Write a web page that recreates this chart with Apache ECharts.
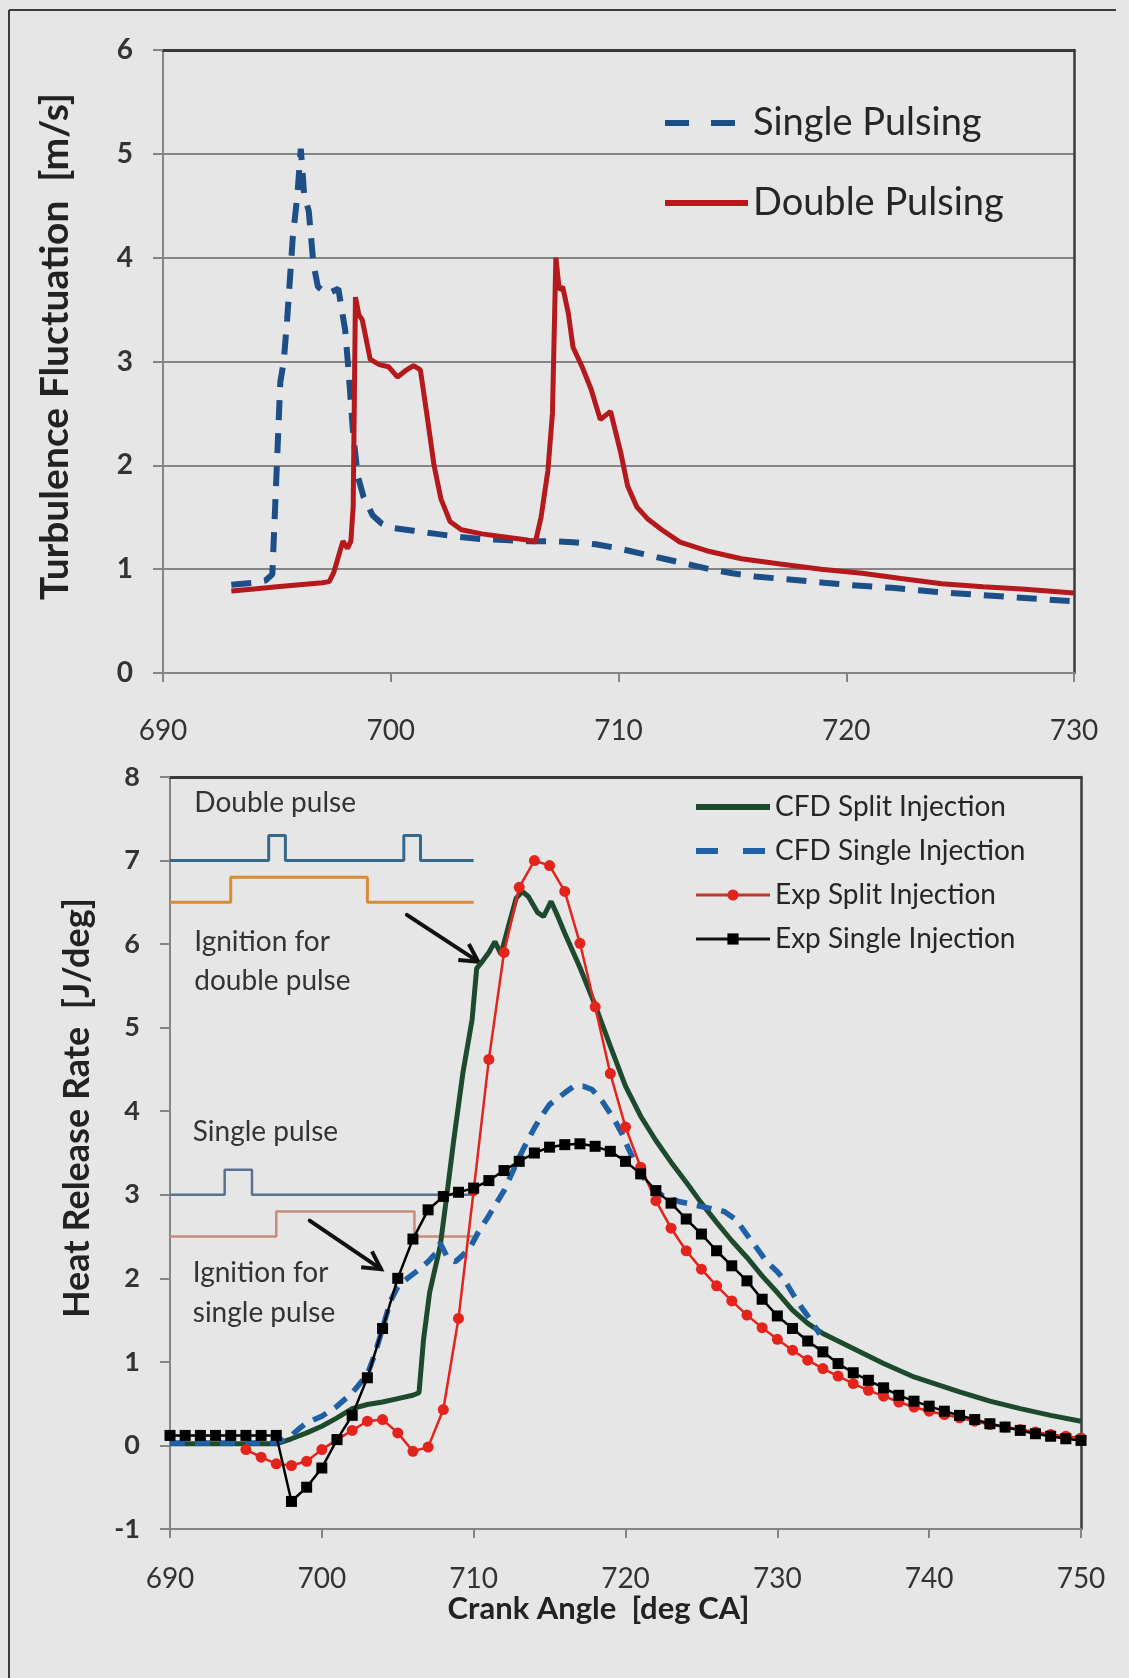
<!DOCTYPE html>
<html>
<head>
<meta charset="utf-8">
<script src="https://cdn.jsdelivr.net/npm/echarts@6/dist/echarts.min.js"></script>
<style>
  html, body { margin: 0; padding: 0; background: #e6e6e6; }
  #chart { width: 1129px; height: 1678px; }
</style>
</head>
<body>
<div id="chart"></div>
<script>
// ---------- Upper panel: turbulence fluctuation ----------
const singlePulsingAngle = [693.0, 693.5, 694.0, 694.5, 694.8, 695.0, 695.15, 695.3, 695.45, 695.7, 695.9, 696.05, 696.2, 696.4, 696.6, 696.8, 697.2, 697.7, 698.0, 698.15, 698.35, 698.55, 698.8, 699.2, 699.6, 700, 701, 702, 703, 704, 705, 706, 707, 708, 709, 710, 711, 712, 713, 714, 715, 716, 717, 718, 719, 720, 722, 724, 726, 728, 730];
const singlePulsingU = [0.85, 0.86, 0.87, 0.89, 0.95, 2.0, 2.8, 3.0, 3.4, 4.2, 4.6, 5.05, 4.6, 4.45, 3.95, 3.72, 3.65, 3.7, 3.3, 2.9, 2.3, 1.9, 1.7, 1.52, 1.44, 1.4, 1.37, 1.34, 1.31, 1.29, 1.28, 1.27, 1.27, 1.26, 1.24, 1.2, 1.15, 1.1, 1.05, 1.0, 0.96, 0.93, 0.91, 0.89, 0.87, 0.85, 0.82, 0.78, 0.75, 0.72, 0.69];

const doublePulsingAngle = [693.0, 694, 695, 696, 697, 697.3, 697.5, 697.7, 697.9, 698.1, 698.25, 698.35, 698.45, 698.6, 698.75, 699.1, 699.5, 699.9, 700.3, 700.7, 701.0, 701.3, 701.6, 701.9, 702.2, 702.6, 703.1, 704.0, 705.0, 706.0, 706.35, 706.6, 706.9, 707.1, 707.25, 707.4, 707.55, 707.8, 708.0, 708.4, 708.8, 709.2, 709.65, 710.1, 710.4, 710.8, 711.3, 711.9, 712.7, 714.0, 715.4, 717.1, 718.9, 720.7, 722.4, 724.2, 726.0, 727.7, 730.0];
const doublePulsingU = [0.79, 0.81, 0.83, 0.85, 0.87, 0.88, 0.97, 1.12, 1.27, 1.2, 1.27, 1.6, 3.62, 3.45, 3.4, 3.02, 2.97, 2.95, 2.85, 2.92, 2.96, 2.92, 2.47, 2.0, 1.68, 1.46, 1.38, 1.34, 1.31, 1.28, 1.26, 1.5, 1.95, 2.5, 4.0, 3.69, 3.72, 3.46, 3.14, 2.95, 2.73, 2.44, 2.52, 2.12, 1.8, 1.6, 1.48, 1.38, 1.26, 1.17, 1.1, 1.05, 1.0, 0.96, 0.91, 0.86, 0.83, 0.81, 0.77];

// ---------- Lower panel: heat release rate ----------
const cfdSplitAngle = [690, 697, 698, 699, 700, 701, 702, 703, 704, 705, 706, 706.4, 706.7, 707.1, 707.8, 708.2, 708.7, 709.3, 709.9, 710.2, 710.6, 711.0, 711.4, 711.8, 712.3, 712.8, 713.2, 713.6, 714.2, 714.6, 715.1, 715.5, 716, 717, 718, 719, 720, 721, 722, 723, 724, 725, 726, 727, 728, 729, 730, 731, 732, 733, 734, 735, 736, 737, 738, 739, 740, 742, 744, 746, 748, 750];
const cfdSplitHRR = [0.02, 0.02, 0.08, 0.15, 0.23, 0.33, 0.44, 0.49, 0.52, 0.56, 0.6, 0.63, 1.27, 1.83, 2.39, 2.95, 3.67, 4.47, 5.1, 5.71, 5.8, 5.9, 6.03, 5.88, 6.22, 6.55, 6.63, 6.57, 6.38, 6.33, 6.51, 6.35, 6.13, 5.72, 5.27, 4.78, 4.3, 3.94, 3.65, 3.39, 3.15, 2.9, 2.67, 2.45, 2.25, 2.03, 1.83, 1.62, 1.46, 1.34, 1.25, 1.16, 1.07, 0.98, 0.9, 0.82, 0.76, 0.64, 0.53, 0.44, 0.36, 0.29];

const cfdSingleAngle = [690, 697, 697.5, 698, 698.5, 699, 700, 701, 702, 703, 703.5, 704, 704.5, 705, 705.5, 706, 706.5, 707, 707.5, 707.8, 708.3, 708.8, 709.3, 709.8, 710.3, 711, 711.5, 712, 712.5, 713, 713.5, 714, 714.5, 715, 715.5, 716, 716.6, 717.2, 717.8, 718.5, 719.2, 719.8, 720.2, 720.8, 721.5, 722.5, 723.5, 724.5, 725.5, 726.5, 727.3, 728, 728.7, 729.3, 730, 730.5, 731, 731.6, 732.2, 732.8];
const cfdSingleHRR = [0.03, 0.03, 0.07, 0.12, 0.2, 0.27, 0.35, 0.47, 0.63, 0.85, 1.1, 1.4, 1.72, 1.9, 1.98, 2.05, 2.12, 2.2, 2.3, 2.42, 2.24, 2.2, 2.28, 2.38, 2.55, 2.75, 2.9, 3.05, 3.25, 3.45, 3.63, 3.8, 3.95, 4.08, 4.15, 4.22, 4.3, 4.3, 4.26, 4.11, 3.92, 3.72, 3.55, 3.32, 3.12, 2.98, 2.92, 2.88, 2.84, 2.8, 2.7, 2.52, 2.35, 2.2, 2.08, 1.97, 1.82, 1.65, 1.5, 1.33];

const expSplitAngle = [695, 696, 697, 698, 699, 700, 701, 702, 703, 704, 705, 706, 707, 708, 709, 710, 711, 712, 713, 714, 715, 716, 717, 718, 719, 720, 721, 722, 723, 724, 725, 726, 727, 728, 729, 730, 731, 732, 733, 734, 735, 736, 737, 738, 739, 740, 741, 742, 743, 744, 745, 746, 747, 748, 749, 750];
const expSplitHRR = [-0.05, -0.14, -0.22, -0.24, -0.19, -0.05, 0.07, 0.18, 0.29, 0.31, 0.15, -0.07, -0.02, 0.43, 1.52, 3.05, 4.62, 5.9, 6.68, 7.0, 6.94, 6.63, 6.01, 5.25, 4.45, 3.81, 3.33, 2.93, 2.6, 2.33, 2.11, 1.91, 1.73, 1.56, 1.41, 1.27, 1.14, 1.02, 0.92, 0.83, 0.74, 0.66, 0.59, 0.52, 0.46, 0.41, 0.37, 0.33, 0.29, 0.25, 0.22, 0.19, 0.16, 0.13, 0.11, 0.09];

const expSingleAngle = [690, 691, 692, 693, 694, 695, 696, 697, 698, 699, 700, 701, 702, 703, 704, 705, 706, 707, 708, 709, 710, 711, 712, 713, 714, 715, 716, 717, 718, 719, 720, 721, 722, 723, 724, 725, 726, 727, 728, 729, 730, 731, 732, 733, 734, 735, 736, 737, 738, 739, 740, 741, 742, 743, 744, 745, 746, 747, 748, 749, 750];
const expSingleHRR = [0.12, 0.12, 0.12, 0.12, 0.12, 0.12, 0.12, 0.12, -0.67, -0.5, -0.27, 0.07, 0.36, 0.81, 1.4, 2.0, 2.47, 2.82, 2.98, 3.03, 3.08, 3.17, 3.29, 3.4, 3.5, 3.57, 3.6, 3.61, 3.58, 3.52, 3.4, 3.25, 3.05, 2.9, 2.71, 2.53, 2.33, 2.15, 1.97, 1.75, 1.55, 1.4, 1.25, 1.12, 0.98, 0.87, 0.78, 0.69, 0.6, 0.53, 0.47, 0.41, 0.36, 0.31, 0.26, 0.22, 0.18, 0.14, 0.11, 0.08, 0.06];

// Injection / ignition timing traces drawn inside the lower panel
const doublePulseAngle = [690, 696.5, 696.5, 697.6, 697.6, 705.4, 705.4, 706.5, 706.5, 710];
const doublePulseLevel = [7, 7, 7.3, 7.3, 7, 7, 7.3, 7.3, 7, 7];
const doubleIgnitionAngle = [690, 694, 694, 703, 703, 710];
const doubleIgnitionLevel = [6.5, 6.5, 6.8, 6.8, 6.5, 6.5];
const singlePulseAngle = [690, 693.6, 693.6, 695.4, 695.4, 710];
const singlePulseLevel = [3, 3, 3.3, 3.3, 3, 3];
const singleIgnitionAngle = [690, 697, 697, 706.1, 706.1, 710];
const singleIgnitionLevel = [2.5, 2.5, 2.8, 2.8, 2.5, 2.5];

// Annotation text anchors (angle, HRR) and arrows (tail -> tip)
const noteTexts = ['Double pulse', 'Ignition for', 'double pulse', 'Single pulse', 'Ignition for', 'single pulse'];
const noteAnchors = [[691.6, 7.69], [691.6, 6.02], [691.6, 5.56], [691.5, 3.75], [691.5, 2.07], [691.5, 1.59]];
const arrowTails = [[705.6, 6.35], [699.2, 2.69]];
const arrowTips = [[710.3, 5.79], [703.9, 2.11]];

const pairs = (xs, ys) => xs.map((x, i) => [x, ys[i]]);

const FONT = 'Lato, "Open Sans", sans-serif';
const AXIS_GRAY = '#858585';
const FRAME_DARK = '#3a3a3a';

const chart = echarts.init(document.getElementById('chart'), null, { renderer: 'canvas' });

function valueX(gridIndex, min, max, labelMargin) {
  return {
    type: 'value', gridIndex, min, max, interval: 10, position: 'bottom',
    axisLine: { show: true, onZero: false, lineStyle: { color: AXIS_GRAY, width: 2 } },
    axisTick: { show: true, inside: false, length: 9, lineStyle: { color: AXIS_GRAY, width: 2 } },
    axisLabel: { show: true, margin: labelMargin, fontFamily: FONT, fontSize: 28, color: '#333' },
    splitLine: { show: false }
  };
}
function borderX(gridIndex, min, max) {
  return {
    type: 'value', gridIndex, min, max, interval: 10, position: 'top',
    axisLine: { show: true, onZero: false, lineStyle: { color: FRAME_DARK, width: 3 } },
    axisTick: { show: false }, axisLabel: { show: false }, splitLine: { show: false }
  };
}
function borderY(gridIndex, min, max) {
  return {
    type: 'value', gridIndex, min, max, interval: 1, position: 'right',
    axisLine: { show: true, onZero: false, lineStyle: { color: FRAME_DARK, width: 2.5 } },
    axisTick: { show: false }, axisLabel: { show: false }, splitLine: { show: false }
  };
}

const bottomX = valueX(1, 690, 750, 36);
bottomX.name = 'Crank Angle  [deg CA]';
bottomX.nameLocation = 'middle';
bottomX.nameGap = 61;
bottomX.nameTextStyle = { fontFamily: FONT, fontSize: 31, fontWeight: 'bold', color: '#222', padding: [0, 54, 0, 0] };

const option = {
  animation: false,
  backgroundColor: '#e6e6e6',
  grid: [
    { left: 163, top: 50, width: 911, height: 623, outerBoundsMode: 'none', containLabel: false },
    { left: 170, top: 777, width: 911, height: 752, outerBoundsMode: 'none', containLabel: false }
  ],
  xAxis: [
    valueX(0, 690, 730, 44),
    borderX(0, 690, 730),
    bottomX,
    borderX(1, 690, 750)
  ],
  yAxis: [
    {
      type: 'value', gridIndex: 0, min: 0, max: 6, interval: 1,
      name: 'Turbulence Fluctuation  [m/s]', nameLocation: 'middle', nameGap: 88, nameRotate: 90,
      nameTextStyle: { fontFamily: FONT, fontSize: 39, fontWeight: 'bold', color: '#222', padding: [0, 0, 0, 30] },
      axisLine: { show: true, onZero: false, lineStyle: { color: AXIS_GRAY, width: 2 } },
      axisTick: { show: true, length: 10, lineStyle: { color: AXIS_GRAY, width: 2 } },
      axisLabel: { margin: 30, fontFamily: FONT, fontSize: 28, fontWeight: 'bold', color: '#333' },
      splitLine: { show: true, lineStyle: { color: '#858585', width: 2 } }
    },
    borderY(0, 0, 6),
    {
      type: 'value', gridIndex: 1, min: -1, max: 8, interval: 1,
      name: 'Heat Release Rate  [J/deg]', nameLocation: 'middle', nameGap: 75, nameRotate: 90,
      nameTextStyle: { fontFamily: FONT, fontSize: 36, fontWeight: 'bold', color: '#222', padding: [0, 0, 0, 90] },
      axisLine: { show: true, onZero: false, lineStyle: { color: AXIS_GRAY, width: 2 } },
      axisTick: { show: true, length: 10, lineStyle: { color: AXIS_GRAY, width: 2 } },
      axisLabel: { margin: 30, fontFamily: FONT, fontSize: 27, fontWeight: 'bold', color: '#333' },
      splitLine: { show: false }
    },
    borderY(1, -1, 8)
  ],
  legend: [
    {
      orient: 'vertical', left: 662, top: 104, padding: 0, itemGap: 42,
      itemWidth: 83, itemHeight: 20, selectedMode: false,
      textStyle: { fontFamily: FONT, fontSize: 38, color: '#262626' },
      data: [
        { name: 'Single Pulsing', itemStyle: { opacity: 0 }, lineStyle: { color: '#1c4e87', width: 6, type: [24, 22] } },
        { name: 'Double Pulsing', itemStyle: { opacity: 0 }, lineStyle: { color: '#b5191c', width: 6, type: 'solid' } }
      ]
    },
    {
      orient: 'vertical', left: 693, top: 793, padding: 0, itemGap: 16,
      itemWidth: 74, itemHeight: 14, selectedMode: false,
      textStyle: { fontFamily: FONT, fontSize: 28, color: '#262626' },
      data: [
        { name: 'CFD Split Injection', itemStyle: { opacity: 0 }, lineStyle: { color: '#1d4a2c', width: 6, type: 'solid' } },
        { name: 'CFD Single Injection', itemStyle: { opacity: 0 }, lineStyle: { color: '#2060a4', width: 6, type: [22, 25] } },
        { name: 'Exp Split Injection', lineStyle: { color: '#c0392b', width: 3, type: 'solid' } },
        { name: 'Exp Single Injection', lineStyle: { color: '#111', width: 3, type: 'solid' } }
      ]
    }
  ],
  series: [
    {
      name: 'Single Pulsing', type: 'line', xAxisIndex: 0, yAxisIndex: 0,
      data: pairs(singlePulsingAngle, singlePulsingU), symbol: 'none',
      lineStyle: { color: '#1c4e87', width: 6, type: [20, 13] }, itemStyle: { color: '#1c4e87' }
    },
    {
      name: 'Double Pulsing', type: 'line', xAxisIndex: 0, yAxisIndex: 0,
      data: pairs(doublePulsingAngle, doublePulsingU), symbol: 'none',
      lineStyle: { color: '#b5191c', width: 5 }, itemStyle: { color: '#b5191c' }
    },
    { type: 'line', xAxisIndex: 2, yAxisIndex: 2, silent: true, symbol: 'none',
      data: pairs(doublePulseAngle, doublePulseLevel), lineStyle: { color: '#34698b', width: 3 } },
    { type: 'line', xAxisIndex: 2, yAxisIndex: 2, silent: true, symbol: 'none',
      data: pairs(doubleIgnitionAngle, doubleIgnitionLevel), lineStyle: { color: '#d98a36', width: 3 } },
    { type: 'line', xAxisIndex: 2, yAxisIndex: 2, silent: true, symbol: 'none',
      data: pairs(singlePulseAngle, singlePulseLevel), lineStyle: { color: '#56728c', width: 2.5 } },
    { type: 'line', xAxisIndex: 2, yAxisIndex: 2, silent: true, symbol: 'none',
      data: pairs(singleIgnitionAngle, singleIgnitionLevel), lineStyle: { color: '#c98c78', width: 2.5 } },
    {
      name: 'CFD Split Injection', type: 'line', xAxisIndex: 2, yAxisIndex: 2,
      data: pairs(cfdSplitAngle, cfdSplitHRR), symbol: 'none',
      lineStyle: { color: '#1d4a2c', width: 5 }, itemStyle: { color: '#1d4a2c' }
    },
    {
      name: 'CFD Single Injection', type: 'line', xAxisIndex: 2, yAxisIndex: 2,
      data: pairs(cfdSingleAngle, cfdSingleHRR), symbol: 'none',
      lineStyle: { color: '#2060a4', width: 5.5, type: [15, 10] }, itemStyle: { color: '#2060a4' }
    },
    {
      name: 'Exp Split Injection', type: 'line', xAxisIndex: 2, yAxisIndex: 2,
      data: pairs(expSplitAngle, expSplitHRR), symbol: 'circle', symbolSize: 11, showAllSymbol: true,
      lineStyle: { color: '#e3231c', width: 2.5 }, itemStyle: { color: '#e3231c' }
    },
    {
      name: 'Exp Single Injection', type: 'line', xAxisIndex: 2, yAxisIndex: 2,
      data: pairs(expSingleAngle, expSingleHRR), symbol: 'rect', symbolSize: 11, showAllSymbol: true,
      lineStyle: { color: '#000', width: 2.5 }, itemStyle: { color: '#000' }
    }
  ]
};

chart.setOption(option);

// Annotations placed in data coordinates of the lower panel
const toPx = p => chart.convertToPixel({ xAxisIndex: 2, yAxisIndex: 2 }, p);
const graphics = [
  // outer frame (top and left edges)
  { type: 'line', shape: { x1: 9, y1: 10, x2: 1116, y2: 10 }, style: { stroke: '#3c3c3c', lineWidth: 2 }, silent: true },
  { type: 'line', shape: { x1: 9, y1: 10, x2: 9, y2: 1678 }, style: { stroke: '#3c3c3c', lineWidth: 2 }, silent: true }
];
noteTexts.forEach((t, i) => {
  const p = toPx(noteAnchors[i]);
  graphics.push({
    type: 'text', x: p[0], y: p[1], silent: true,
    style: { text: t, fontFamily: FONT, fontSize: 28, fill: '#333', verticalAlign: 'middle', align: 'left' }
  });
});
arrowTails.forEach((tail, i) => {
  const a = toPx(tail), b = toPx(arrowTips[i]);
  const ang = Math.atan2(b[1] - a[1], b[0] - a[0]);
  const L = 20, spread = 0.5;
  const h1 = [b[0] - L * Math.cos(ang - spread), b[1] - L * Math.sin(ang - spread)];
  const h2 = [b[0] - L * Math.cos(ang + spread), b[1] - L * Math.sin(ang + spread)];
  graphics.push({ type: 'line', silent: true, shape: { x1: a[0], y1: a[1], x2: b[0], y2: b[1] },
    style: { stroke: '#111', lineWidth: 4, lineCap: 'round' } });
  graphics.push({ type: 'polyline', silent: true, shape: { points: [h1, b, h2] },
    style: { stroke: '#111', lineWidth: 4, lineJoin: 'miter', fill: null } });
});
chart.setOption({ graphic: graphics });
</script>
</body>
</html>
